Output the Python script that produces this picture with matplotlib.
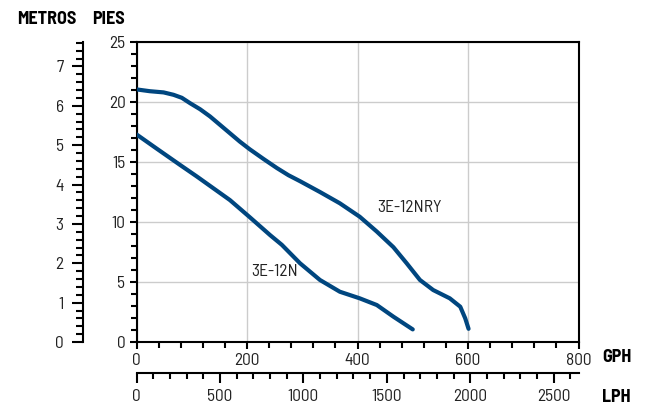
import matplotlib
matplotlib.use("Agg")
import matplotlib.pyplot as plt
from matplotlib.ticker import MultipleLocator

# 3E-12NRY curve, flow in GPH and head in feet
nry_gph = [0, 24, 49, 67, 82, 97, 115, 133, 151, 169, 187, 205, 230, 254, 275,
           296, 332, 368, 404, 435, 465, 489, 513, 537, 567, 586, 595, 601]
nry_ft = [21.05, 20.9, 20.8, 20.6, 20.35, 19.9, 19.4, 18.8, 18.1, 17.4, 16.7, 16.06, 15.25, 14.5, 13.9,
          13.4, 12.5, 11.56, 10.44, 9.2, 7.9, 6.56, 5.17, 4.33, 3.64, 2.94, 1.97, 1.1]

# 3E-12N curve
n_gph = [0, 37, 79, 109, 169, 205, 242, 263, 296, 332, 368, 404, 435, 465, 500]
n_ft = [17.3, 16.1, 14.75, 13.8, 11.83, 10.4, 8.9, 8.1, 6.56, 5.17, 4.19, 3.64, 3.08, 2.11, 1.05]

curve_labels = ["3E-12NRY", "3E-12N"]
label_pos = [(435, 11.2), (208, 5.9)]

FT_PER_M = 3.2808
LPH_PER_GPH = 3.31
blue = "#00467f"

plt.rcParams['font.family'] = ['Barlow Semi Condensed', 'Roboto Condensed', 'Roboto', 'DejaVu Sans']

fig = plt.figure(figsize=(6.46, 4.07), dpi=100)
ax = fig.add_axes([136.5 / 646, 65 / 407, 442 / 646, 300 / 407])

for xs, ys in [(nry_gph, nry_ft), (n_gph, n_ft)]:
    ax.plot(xs, ys, color=blue, lw=3, solid_capstyle='round', solid_joinstyle='round', zorder=3)
for txt, (x, y) in zip(curve_labels, label_pos):
    ax.text(x, y, txt, fontsize=12.5, va='center', color='#222222')

ax.set_xlim(0, 800)
ax.set_ylim(0, 25)
ax.xaxis.set_major_locator(MultipleLocator(200))
ax.xaxis.set_minor_locator(MultipleLocator(40))
ax.yaxis.set_major_locator(MultipleLocator(5))
ax.yaxis.set_minor_locator(MultipleLocator(1))
ax.grid(True, which='major', color='#cccccc', lw=1)
for s in ax.spines.values():
    s.set_linewidth(1.5)
ax.tick_params(which='both', labelsize=12.5, width=1.5, color='black', labelcolor='#222222')
ax.tick_params(which='major', length=5, pad=3)
ax.tick_params(which='minor', length=4)

# metros axis
sec_y = ax.secondary_yaxis(-0.121, functions=(lambda f: f / FT_PER_M, lambda m: m * FT_PER_M))
sec_y.yaxis.set_major_locator(MultipleLocator(1))
sec_y.yaxis.set_minor_locator(MultipleLocator(0.2))
sec_y.spines['left'].set_linewidth(1.5)
sec_y.tick_params(which='both', labelsize=12.5, width=1.5, labelcolor='#222222')
sec_y.tick_params(which='major', length=8, pad=6)
sec_y.tick_params(which='minor', length=5)

# LPH axis
sec_x = ax.secondary_xaxis(-0.102, functions=(lambda g: g * LPH_PER_GPH, lambda l: l / LPH_PER_GPH))
sec_x.xaxis.set_major_locator(MultipleLocator(500))
sec_x.xaxis.set_minor_locator(MultipleLocator(100))
sec_x.spines['bottom'].set_linewidth(1.5)
sec_x.tick_params(which='both', labelsize=12.5, width=1.5, labelcolor='#222222')
sec_x.tick_params(which='major', length=7, pad=5)
sec_x.tick_params(which='minor', length=4)

fig.text(17 / 646, 1 - 20 / 407, "METROS", fontsize=13, fontweight='bold', va='center')
fig.text(92 / 646, 1 - 20 / 407, "PIES", fontsize=13, fontweight='bold', va='center')
fig.text(602 / 646, 1 - 358 / 407, "GPH", fontsize=13, fontweight='bold', va='center')
fig.text(602 / 646, 1 - 398 / 407, "LPH", fontsize=13, fontweight='bold', va='center')

fig.savefig("out.png", dpi=100)
